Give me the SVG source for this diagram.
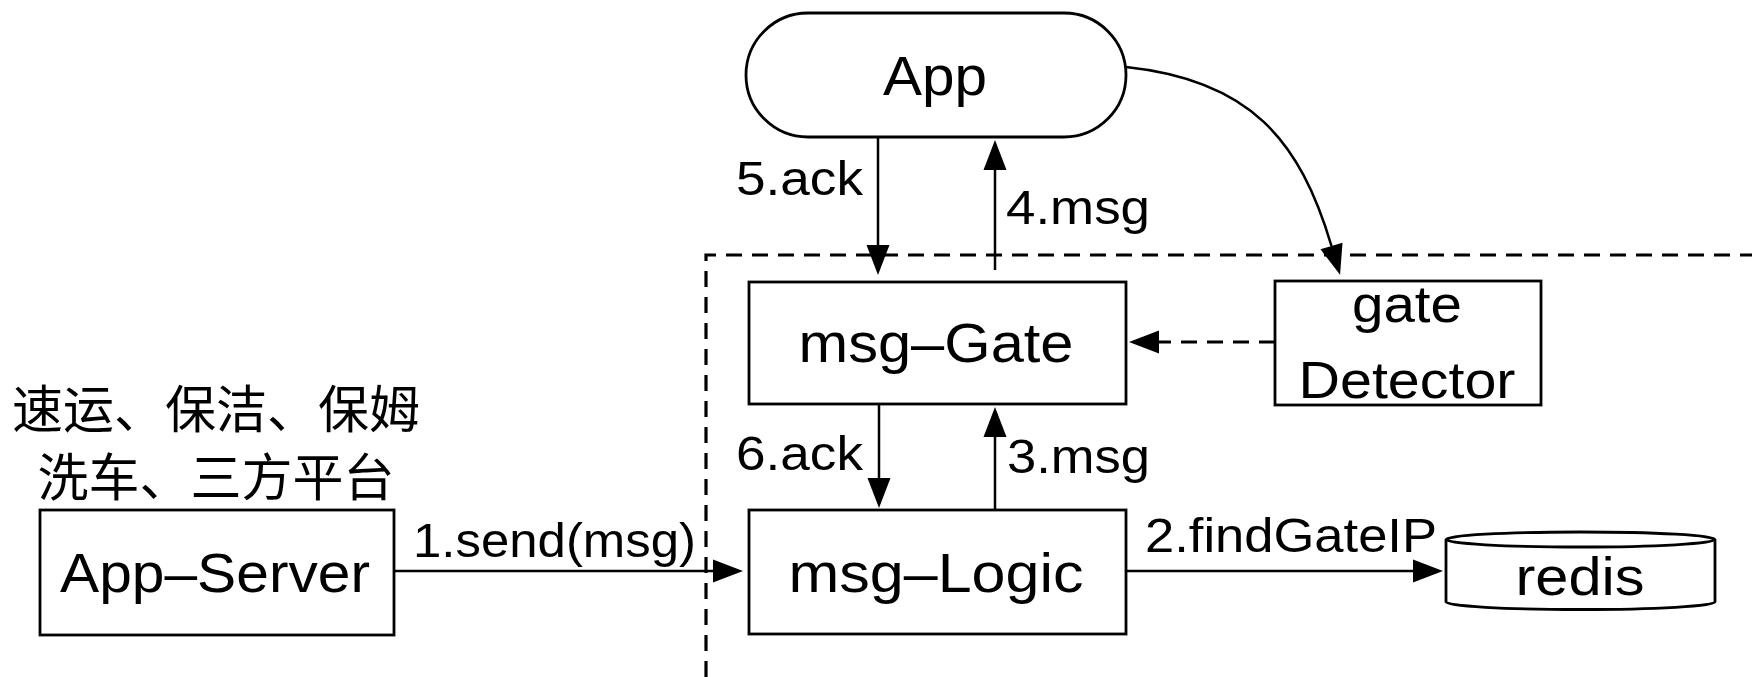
<svg xmlns="http://www.w3.org/2000/svg" width="1752" height="677" viewBox="0 0 1752 677">
<defs>
<style>
.box{fill:#fff;stroke:#000;stroke-width:2.8}
.t{font-family:"Liberation Sans",Arial,sans-serif;fill:#000}
.lbl{font-size:56px;text-anchor:middle}
.el{font-size:48px}
.cjk{font-family:"Noto Sans CJK SC","Liberation Sans",sans-serif;font-size:51px;text-anchor:middle;fill:#000}
.ln{fill:none;stroke:#000;stroke-width:2.5}
.dash{stroke-dasharray:16 10}
.bd{stroke-width:3.2}
</style>
<marker id="ah" markerUnits="userSpaceOnUse" markerWidth="31" markerHeight="24" refX="0" refY="11.5" orient="auto" overflow="visible">
<path d="M0,0 L30,11.5 L0,23 z" fill="#000"/>
</marker>
</defs>
<rect width="1752" height="677" fill="#fff"/>
<path id="boundary" class="ln dash bd" d="M706,677 V255 H1752"/>
<g id="app">
<rect class="box" x="746" y="13" width="380" height="124" rx="62" ry="62"/>
<text class="t lbl" x="935" y="95" textLength="104" lengthAdjust="spacingAndGlyphs">App</text>
</g>
<g id="msg-gate">
<rect class="box" x="749" y="282" width="377" height="122"/>
<text class="t lbl" x="936" y="362" textLength="275" lengthAdjust="spacingAndGlyphs">msg–Gate</text>
</g>
<g id="msg-logic">
<rect class="box" x="749" y="510" width="377" height="124"/>
<text class="t lbl" x="936" y="592" textLength="295" lengthAdjust="spacingAndGlyphs">msg–Logic</text>
</g>
<g id="app-server">
<text class="cjk" x="216" y="428">速运、保洁、保姆</text>
<text class="cjk" x="216" y="496">洗车、三方平台</text>
<rect class="box" x="40" y="510" width="354" height="125"/>
<text class="t lbl" x="215" y="592" textLength="310" lengthAdjust="spacingAndGlyphs">App–Server</text>
</g>
<g id="gate-detector">
<rect class="box" x="1275" y="281" width="266" height="124"/>
<text class="t lbl" x="1407" y="322" textLength="110" lengthAdjust="spacingAndGlyphs" style="font-size:52px">gate</text>
<text class="t lbl" x="1407" y="398" textLength="217" lengthAdjust="spacingAndGlyphs" style="font-size:52px">Detector</text>
</g>
<g id="redis">
<path class="box" d="M1446,539.5 V602 A134.5,7.5 0 0 0 1715,602 V539.5"/>
<ellipse class="box" cx="1580.5" cy="539.5" rx="134.5" ry="7.5"/>
<text class="t lbl" x="1580" y="595" textLength="129" lengthAdjust="spacingAndGlyphs" style="font-size:54px">redis</text>
</g>
<g id="connectors">
<path class="ln" d="M394,571 H713" marker-end="url(#ah)"/>
<path class="ln" d="M1126,571 H1413" marker-end="url(#ah)"/>
<path class="ln" d="M995,510 V437" marker-end="url(#ah)"/>
<path class="ln" d="M995,270 V170" marker-end="url(#ah)"/>
<path class="ln" d="M878,137 V245" marker-end="url(#ah)"/>
<path class="ln" d="M879,404 V478" marker-end="url(#ah)"/>
<path class="ln dash" d="M1275,342 H1159" marker-end="url(#ah)" style="stroke-width:3"/>
<path class="ln" d="M1126,67 C1250,80 1300,140 1331.5,246" marker-end="url(#ah)"/>
<text class="t el" x="413" y="557" textLength="283" lengthAdjust="spacingAndGlyphs">1.send(msg)</text>
<text class="t el" x="1145" y="552" textLength="292" lengthAdjust="spacingAndGlyphs">2.findGateIP</text>
<text class="t el" x="1007" y="473" textLength="143" lengthAdjust="spacingAndGlyphs">3.msg</text>
<text class="t el" x="1006" y="224" textLength="144" lengthAdjust="spacingAndGlyphs">4.msg</text>
<text class="t el" x="736" y="195" textLength="127" lengthAdjust="spacingAndGlyphs">5.ack</text>
<text class="t el" x="736" y="470" textLength="127" lengthAdjust="spacingAndGlyphs">6.ack</text>
</g>
</svg>
